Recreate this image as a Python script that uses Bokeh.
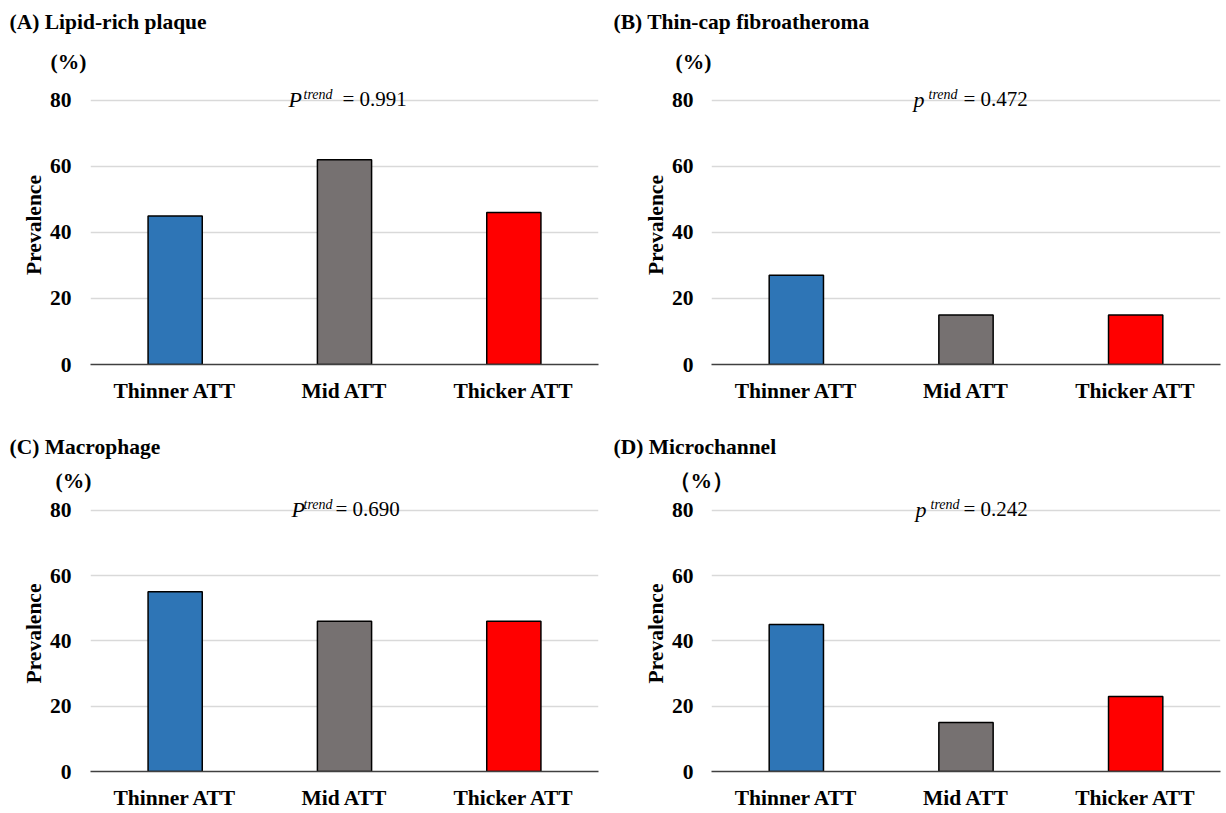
from bokeh.plotting import figure
from bokeh.models import Label, FixedTicker, FactorRange, Range1d, Title
from bokeh.layouts import column, row
from bokeh.embed import file_html
from bokeh.resources import INLINE

# ---- data ----
categories = ["Thinner ATT", "Mid ATT", "Thicker ATT"]
lipid_rich = [45, 62, 46]
thin_cap = [27, 15, 15]
macrophage = [55, 46, 46]
microchannel = [45, 15, 23]
bar_colors = ["#2E75B6", "#767171", "#FF0000"]
y_ticks = [0, 20, 40, 60, 80]
panel_titles = ["(A) Lipid-rich plaque", "(B) Thin-cap fibroatheroma",
                "(C) Macrophage", "(D) Microchannel"]
p_letters = ["P", "p", "P", "p"]
p_values = ["= 0.991", "= 0.472", "= 0.690", "= 0.242"]
unit_labels = ["(%)", "(%)", "(%)", "（%）"]

FONT = "Liberation Serif"
BIG = "21.5px"
Y_END = 84.5


def make_panel(values, title, p_letter, p_value, unit, width, height,
               b_left, b_right, b_top, b_bottom, tick_standoff,
               title_cfg, unit_cfg, ptr_cfg):
    p = figure(x_range=FactorRange(*categories), y_range=Range1d(0, Y_END),
               width=width, height=height, output_backend="svg",
               toolbar_location=None, tools="", title=title)
    p.min_border_left = b_left
    p.min_border_right = b_right
    p.min_border_top = b_top
    p.min_border_bottom = b_bottom
    p.outline_line_color = None
    p.background_fill_color = "white"
    p.border_fill_color = "white"

    p.vbar(x=categories, top=values, width=0.32, fill_color=bar_colors,
           line_color="black", line_width=1.5)

    p.xgrid.grid_line_color = None
    p.ygrid.grid_line_color = "#d9d9d9"
    p.ygrid.grid_line_width = 1.5
    p.yaxis.ticker = FixedTicker(ticks=y_ticks)
    p.ygrid.ticker = FixedTicker(ticks=y_ticks)

    for ax in (p.xaxis[0], p.yaxis[0]):
        ax.major_tick_line_color = None
        ax.minor_tick_line_color = None
        ax.major_label_text_font = FONT
        ax.major_label_text_font_style = "bold"
        ax.major_label_text_font_size = BIG
        ax.major_label_text_color = "black"
    p.yaxis.axis_line_color = None
    p.yaxis.major_label_standoff = tick_standoff
    p.yaxis.axis_label = "Prevalence"
    p.yaxis.axis_label_text_font = FONT
    p.yaxis.axis_label_text_font_style = "bold"
    p.yaxis.axis_label_text_font_size = BIG
    p.yaxis.axis_label_text_color = "black"
    p.yaxis.axis_label_standoff = 1
    p.xaxis.axis_line_color = "#404040"
    p.xaxis.axis_line_width = 1.5
    p.xaxis.major_label_standoff = 8

    # panel title (outermost in the "above" stack)
    t_off, t_va, t_so = title_cfg
    p.title.text_font = FONT
    p.title.text_font_style = "bold"
    p.title.text_font_size = BIG
    p.title.text_color = "black"
    p.title.align = "left"
    p.title.offset = t_off
    p.title.vertical_align = t_va
    p.title.standoff = t_so

    # unit label, directly above the plot area
    u_off, u_va, u_so = unit_cfg
    p.add_layout(Title(text=unit, text_font=FONT, text_font_style="bold",
                       text_font_size=BIG, text_color="black", align="left",
                       offset=u_off, vertical_align=u_va, standoff=u_so), "above")

    # P-trend annotation inside the plot area
    pl_dx, tr_dx, eq_dx = ptr_cfg
    p.add_layout(Label(x=0, y=80, x_offset=pl_dx, y_offset=1, text=p_letter,
                       text_font=FONT, text_font_style="italic",
                       text_font_size="22px", text_baseline="alphabetic",
                       text_align="left", text_color="black"))
    p.add_layout(Label(x=0, y=80, x_offset=tr_dx, y_offset=6, text="trend",
                       text_font=FONT, text_font_style="italic",
                       text_font_size="14px", text_baseline="alphabetic",
                       text_align="left", text_color="black"))
    p.add_layout(Label(x=0, y=80, x_offset=eq_dx, y_offset=1, text=p_value,
                       text_font=FONT, text_font_style="normal",
                       text_font_size="21px", text_baseline="alphabetic",
                       text_align="left", text_color="black"))
    return p


pA = make_panel(lipid_rich, panel_titles[0], p_letters[0], p_values[0], unit_labels[0],
                611, 412, 90, 13, 85, 48, 13,
                (-81, "top", 0), (-40, "bottom", 24), (198, 213, 252))
pB = make_panel(thin_cap, panel_titles[1], p_letters[1], p_values[1], unit_labels[1],
                614, 412, 100, 5, 85, 48, 12,
                (-98, "top", 0), (-36, "bottom", 24), (202, 217, 252))
pC = make_panel(macrophage, panel_titles[2], p_letters[2], p_values[2], unit_labels[2],
                611, 400, 90, 13, 83, 37, 13,
                (-81, "bottom", 10), (-35, "bottom", 6), (201, 213, 245))
pD = make_panel(microchannel, panel_titles[3], p_letters[3], p_values[3], unit_labels[3],
                614, 400, 100, 5, 83, 37, 12,
                (-98, "bottom", 10), (-43, "bottom", 6), (204, 219, 252))

layout = column(row(pA, pB), row(pC, pD))

open("out.html", "w").write(file_html(layout, INLINE))
